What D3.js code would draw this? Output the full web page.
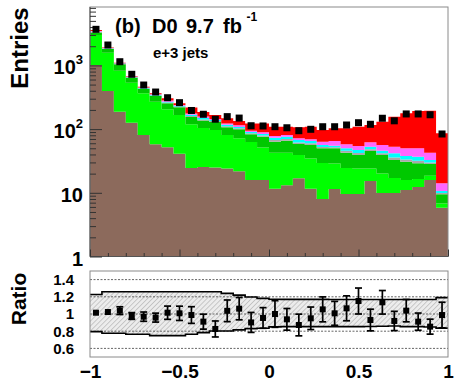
<!DOCTYPE html>
<html><head><meta charset="utf-8">
<script src="https://cdn.jsdelivr.net/npm/d3@7"></script>
<style>
body{margin:0;background:#fff}
text{font-family:"Liberation Sans",Arial,Helvetica,sans-serif;font-weight:bold;fill:#000}
</style>
</head><body>
<svg id="c" width="456" height="381"></svg>
<script>
// ---- data ----
const binEdges = [-1,-0.9333,-0.8667,-0.8,-0.7333,-0.6667,-0.6,-0.5333,-0.4667,-0.4,-0.3333,-0.2667,-0.2,-0.1333,-0.0667,0,
  0.0667,0.1333,0.2,0.2667,0.3333,0.4,0.4667,0.5333,0.6,0.6667,0.7333,0.8,0.8667,0.9333,1];
const multijet  = [1014,396,188,126,81,58,52,41,24.5,25.4,25,24,21.8,15.9,15.9,11.6,13.1,16.9,11.6,8,11.5,9.6,9.6,15.3,9.9,9.9,11.1,12.3,15.9,5.8];
const wLight    = [1986,1186,638,409,284,211,153,125,94.5,78.6,72,57,49.9,46.8,35.5,31,29.5,22.3,22.9,21.4,17.3,14.9,14.5,8.8,10.2,7.2,4.8,4.2,2.6,1.0];
const wHeavy    = [283,226,215,106,61,62,49,54,36,32,32,26,27.6,20.1,24.6,20.8,23.2,19.1,21.8,20.6,21.2,18.1,15.1,21.2,19.1,15.6,14.9,12.5,9.8,2.7];
const zJets     = [80,30,15,10,8,7,8,6,6,6,5,4,3.7,3,3.3,4,4,3.5,3.5,2.5,2,3,3,3,2.5,3,2.5,3,1.5,0.4];
const diboson   = [50,20,12,8,7,7,8,6,7,8,5,6,5,4.2,4.5,5.9,6.2,5.6,5.2,3.8,2.8,4.4,4.8,4.6,4.1,6,4.5,4.9,2.9,0.8];
const singleTop = [60,22,15,10,9,8,10,8,8,8,5,6,7,4.4,5.3,4.6,4.8,4.3,4.2,7.1,10.2,7.7,7.3,9.2,10.5,11.2,12.2,13.1,9.9,3.4];
const ttbar     = [120,30,20,13,13,12,25,14,42,27,22,25,19,28.6,33.9,31.1,28.2,35.3,39.8,33.4,38,45.3,54.7,53.9,74.7,104,127,142,151,72];
const dataEntries = [3686,2090,1143,725,492,382,311,260,196,171,143,157,149,113,112,109,105,94.4,99.3,109,109,116,126,119,148,135,173,173,168,83.8];

const ratio    = [1.015,1.023,1.039,0.977,0.969,0.958,1.015,1.008,0.988,0.911,0.826,1.037,1.062,0.902,0.954,1.0,0.938,0.872,0.95,1.054,1.008,1.066,1.151,0.93,1.136,0.919,1.039,0.911,0.853,0.988];
const ratioErr = [0,0,0.045,0.039,0.054,0.052,0.077,0.083,0.097,0.087,0.093,0.126,0.13,0.116,0.12,0.155,0.126,0.126,0.131,0.145,0.139,0.145,0.151,0.126,0.137,0.112,0.13,0.1,0.087,0.149];
const bandUp = [1.226,1.259,1.259,1.259,1.259,1.259,1.259,1.259,1.259,1.259,1.259,1.240,1.220,1.197,1.182,1.172,1.170,1.170,1.170,1.170,1.168,1.168,1.168,1.168,1.168,1.168,1.168,1.168,1.168,1.190];
const bandLo = [0.795,0.776,0.776,0.765,0.765,0.748,0.748,0.748,0.765,0.783,0.803,0.803,0.815,0.830,0.834,0.850,0.853,0.853,0.853,0.853,0.853,0.853,0.853,0.855,0.858,0.860,0.853,0.853,0.848,0.836];

const yTicksMajor = [1,10,100,1000];
const yTickLabels = [["1",""],["10",""],["10","2"],["10","3"]];
const ratioTicks = [0.6,0.8,1,1.2,1.4];
const xTicks = [-1,-0.5,0,0.5,1];

const layerKeys = ["multijet","wLight","wHeavy","zJets","diboson","singleTop","ttbar"];
const layerColors = {multijet:"#8c6a5c",wLight:"#00ff00",wHeavy:"#00c800",zJets:"#a8a8a8",diboson:"#00ffff",singleTop:"#ff66ff",ttbar:"#ff0000"};
const series = {multijet,wLight,wHeavy,zJets,diboson,singleTop,ttbar};

// ---- scales ----
const svg = d3.select("#c");
svg.append("rect").attr("width",456).attr("height",381).attr("fill","#fff");
const x = d3.scaleLinear().domain([-1,1]).range([90,448]);
const y = d3.scaleLog().domain([1,8260]).range([256.5,7]);
const yr = d3.scaleLinear().domain([0.5,1.5]).range([357,271]);

const rows = binEdges.slice(0,-1).map((lo,i)=>{
  const r = {lo, hi:binEdges[i+1], i};
  layerKeys.forEach(k=>r[k]=series[k][i]);
  return r;
});
const stacked = d3.stack().keys(layerKeys)(rows);

// ---- top panel stacked histogram ----
const area = d3.area()
  .x(p=>x(p.x))
  .y0(p=>y(Math.max(p.v0,1)))
  .y1(p=>y(Math.max(p.v1,1)));
stacked.forEach(layer=>{
  const pts = [];
  layer.forEach(d=>{
    pts.push({x:d.data.lo, v0:d[0], v1:d[1]});
    pts.push({x:d.data.hi, v0:d[0], v1:d[1]});
  });
  svg.append("path").attr("d",area(pts)).attr("fill",layerColors[layer.key]);
});

// frame
svg.append("rect").attr("x",90).attr("y",7).attr("width",358).attr("height",249.5)
  .attr("fill","none").attr("stroke","#8a8a8a").attr("stroke-width",1);
svg.append("line").attr("x1",90).attr("x2",90).attr("y1",7).attr("y2",256.5).attr("stroke","#555");
svg.append("line").attr("x1",90).attr("x2",448).attr("y1",256.5).attr("y2",256.5).attr("stroke","#555");

// left axis ticks (inside)
const minorY = [];
[1,10,100,1000].forEach(dec=>{ for(let m=2;m<=9;m++){ const v=m*dec; if(v<8260) minorY.push(v);} });
const gyMaj = svg.append("g").attr("transform","translate(90,0)")
  .call(d3.axisRight(y).tickValues(yTicksMajor).tickSize(12).tickFormat(""));
const gyMin = svg.append("g").attr("transform","translate(90,0)")
  .call(d3.axisRight(y).tickValues(minorY).tickSize(6).tickFormat(""));
[gyMaj,gyMin].forEach(g=>{ g.select(".domain").remove(); g.selectAll("line").attr("stroke","#333"); });

// bottom axis ticks (inside, upwards)
const minorX = d3.range(-0.9,1.0,0.1).map(v=>+v.toFixed(2)).filter(v=>Math.abs(v*2-Math.round(v*2))>1e-6);
const gxMaj = svg.append("g").attr("transform","translate(0,256.5)")
  .call(d3.axisTop(x).tickValues(xTicks).tickSize(7).tickFormat(""));
const gxMin = svg.append("g").attr("transform","translate(0,256.5)")
  .call(d3.axisTop(x).tickValues(minorX).tickSize(3.5).tickFormat(""));
[gxMaj,gxMin].forEach(g=>{ g.select(".domain").remove(); g.selectAll("line").attr("stroke","#333"); });

// y labels
yTicksMajor.forEach((v,i)=>{
  const t = svg.append("text").attr("x",83).attr("y",y(v)+2).attr("text-anchor","end")
    .attr("dominant-baseline","central").style("font-size","20px");
  t.append("tspan").text(yTickLabels[i][0]);
  if(yTickLabels[i][1]) t.append("tspan").attr("dy",-8).style("font-size","13px").text(yTickLabels[i][1]);
});

// data markers
const centers = rows.map(r=>(r.lo+r.hi)/2);
svg.append("g").selectAll("rect").data(dataEntries).join("rect")
  .attr("x",(d,i)=>x(centers[i])-3.5).attr("y",d=>y(d)-3.5)
  .attr("width",7).attr("height",7).attr("fill","#000");

// titles
svg.append("text").attr("transform","translate(28,48) rotate(-90)").attr("text-anchor","middle")
  .style("font-size","24px").text("Entries");
svg.append("text").attr("x",115).attr("y",33).style("font-size","20px").text("(b)");
svg.append("text").attr("x",152).attr("y",33).style("font-size","20px").text("D0");
svg.append("text").attr("x",186).attr("y",33).style("font-size","20px").text("9.7");
svg.append("text").attr("x",223).attr("y",33).style("font-size","20px").text("fb");
svg.append("text").attr("x",246.5).attr("y",21).style("font-size","12px").text("-1");
svg.append("text").attr("x",153).attr("y",58).style("font-size","15px").text("e+3 jets");

// ---- ratio panel ----
const defs = svg.append("defs");
const pat = defs.append("pattern").attr("id","hatch").attr("patternUnits","userSpaceOnUse")
  .attr("width",3.5).attr("height",3.5).attr("patternTransform","rotate(45)");
pat.append("rect").attr("width",3.5).attr("height",3.5).attr("fill","#ececec");
pat.append("line").attr("x1",0).attr("y1",0).attr("x2",0).attr("y2",3.5).attr("stroke","#a9a9a9").attr("stroke-width",1.1);

const bandPts = [];
rows.forEach((r,i)=>{
  bandPts.push({x:r.lo, lo:bandLo[i], up:bandUp[i]});
  bandPts.push({x:r.hi, lo:bandLo[i], up:bandUp[i]});
});
svg.append("path").attr("d",d3.area().x(p=>x(p.x)).y0(p=>yr(p.lo)).y1(p=>yr(p.up))(bandPts))
  .attr("fill","url(#hatch)");

// dotted reference lines
svg.append("g").selectAll("line").data(ratioTicks).join("line")
  .attr("x1",90).attr("x2",448).attr("y1",d=>yr(d)).attr("y2",d=>yr(d))
  .attr("stroke","#555").attr("stroke-width",0.9).attr("stroke-dasharray","2,1.5");

// band edges
svg.append("path").attr("d",d3.line().x(p=>x(p.x)).y(p=>yr(p.up))(bandPts))
  .attr("fill","none").attr("stroke","#000").attr("stroke-width",1.6);
svg.append("path").attr("d",d3.line().x(p=>x(p.x)).y(p=>yr(p.lo))(bandPts))
  .attr("fill","none").attr("stroke","#000").attr("stroke-width",1.6);

// frame
svg.append("rect").attr("x",90).attr("y",271).attr("width",358).attr("height",86)
  .attr("fill","none").attr("stroke","#8a8a8a").attr("stroke-width",1);

// ratio points with errors
const gp = svg.append("g");
ratio.forEach((r,i)=>{
  const cx = x(centers[i]);
  const e = ratioErr[i];
  if(e>0){
    gp.append("line").attr("x1",cx).attr("x2",cx).attr("y1",yr(r-e)).attr("y2",yr(r+e)).attr("stroke","#000").attr("stroke-width",1.7);
    [r-e,r+e].forEach(v=>gp.append("line").attr("x1",cx-3.5).attr("x2",cx+3.5).attr("y1",yr(v)).attr("y2",yr(v)).attr("stroke","#000").attr("stroke-width",1.7));
  }
  gp.append("rect").attr("x",cx-3).attr("y",yr(r)-3).attr("width",6).attr("height",6).attr("fill","#000");
});

// ratio y labels
const gry = svg.append("g").attr("transform","translate(90,0)")
  .call(d3.axisLeft(yr).tickValues(ratioTicks).tickSize(0).tickPadding(16)
    .tickFormat(d=>d===1?"1":d.toFixed(1)));
gry.select(".domain").remove();
gry.selectAll("text").style("font-size","15px").style("font-family",'"Liberation Sans",Arial,sans-serif').style("font-weight","bold");

// x labels
const gxl = svg.append("g").attr("transform","translate(0,357)")
  .call(d3.axisBottom(x).tickValues(xTicks).tickSize(0).tickPadding(8)
    .tickFormat(d=>d<0?"\u2212"+Math.abs(d):String(d)));
gxl.select(".domain").remove();
gxl.selectAll("text").style("font-size","19px").style("font-family",'"Liberation Sans",Arial,sans-serif').style("font-weight","bold");

svg.append("text").attr("transform","translate(26,299) rotate(-90)").attr("text-anchor","middle")
  .style("font-size","21px").text("Ratio");
</script>
</body></html>
